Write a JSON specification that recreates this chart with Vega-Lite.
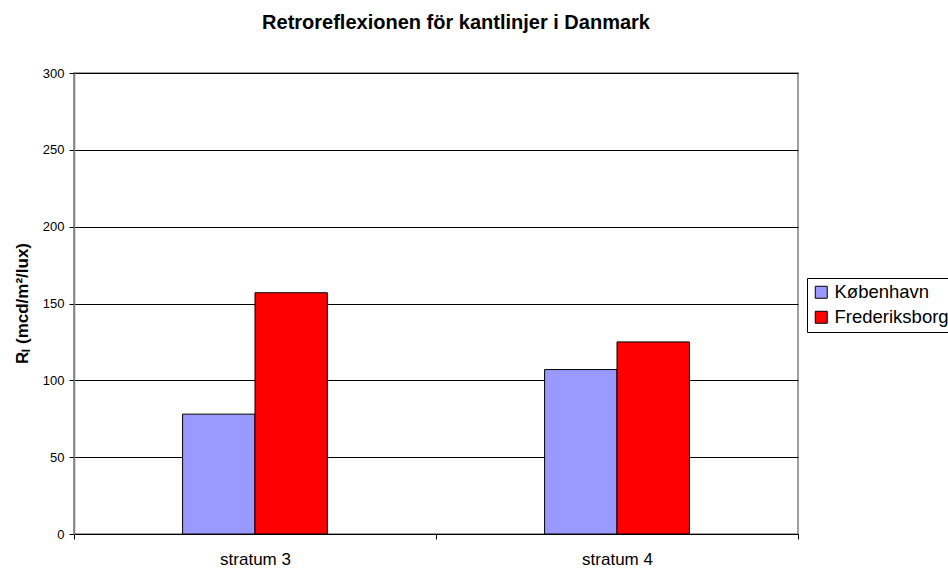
{
  "$schema": "https://vega.github.io/schema/vega-lite/v6.json",
  "autosize": "none",
  "width": 724,
  "height": 461,
  "padding": {"left": 74, "top": 73, "right": 150, "bottom": 35},
  "background": "white",
  "title": {
    "text": "Retroreflexionen för kantlinjer i Danmark",
    "font": "Liberation Sans",
    "fontSize": 20,
    "fontWeight": "bold",
    "color": "#000000",
    "anchor": "middle",
    "frame": "group",
    "baseline": "alphabetic",
    "offset": 18,
    "dx": 20
  },
  "data": {
    "values": [
      {"stratum": "stratum 3", "serie": "København", "RL": 78},
      {"stratum": "stratum 3", "serie": "Frederiksborg", "RL": 157},
      {"stratum": "stratum 4", "serie": "København", "RL": 107},
      {"stratum": "stratum 4", "serie": "Frederiksborg", "RL": 125}
    ]
  },
  "mark": {"type": "bar", "stroke": "#000000", "strokeWidth": 1},
  "encoding": {
    "x": {
      "field": "stratum",
      "type": "nominal",
      "scale": {"paddingInner": 0, "paddingOuter": 0},
      "axis": {
        "title": null,
        "labelAngle": 0,
        "labelFont": "Liberation Sans",
        "labelFontSize": 17,
        "labelColor": "#000000",
        "labelPadding": 12,
        "tickBand": "extent",
        "tickSize": 5,
        "tickColor": "#000000",
        "domainColor": "#000000",
        "domainWidth": 1,
        "grid": false
      }
    },
    "xOffset": {
      "field": "serie",
      "type": "nominal",
      "scale": {"domain": ["_a", "København", "Frederiksborg", "_b"], "paddingInner": 0, "paddingOuter": 0.5}
    },
    "y": {
      "field": "RL",
      "type": "quantitative",
      "scale": {"domain": [0, 300], "nice": false},
      "axis": {
        "title": "Rₗ (mcd/m²/lux)",
        "titleFont": "Liberation Sans",
        "titleFontSize": 17,
        "titleFontWeight": "bold",
        "titleColor": "#000000",
        "titleX": -52,
        "titleY": 230,
        "titleAngle": -90,
        "titleAlign": "center",
        "titleBaseline": "middle",
        "values": [0, 50, 100, 150, 200, 250, 300],
        "labelFont": "Liberation Sans",
        "labelFontSize": 13,
        "labelColor": "#000000",
        "labelPadding": 5,
        "tickSize": 5,
        "tickColor": "#000000",
        "domainColor": "#808080",
        "domainWidth": 1.5,
        "grid": true,
        "gridColor": "#000000",
        "gridWidth": 1
      }
    },
    "color": {
      "field": "serie",
      "type": "nominal",
      "sort": ["København", "Frederiksborg"],
      "scale": {"domain": ["København", "Frederiksborg"], "range": ["#9999FF", "#FF0000"]},
      "legend": {
        "title": null,
        "orient": "none",
        "legendX": 733,
        "legendY": 205,
        "direction": "vertical",
        "fillColor": "#FFFFFF",
        "strokeColor": "#000000",
        "padding": 5,
        "symbolType": "square",
        "symbolSize": 144,
        "symbolStrokeColor": "#000000",
        "symbolStrokeWidth": 1,
        "symbolOpacity": 1,
        "labelFont": "Liberation Sans",
        "labelFontSize": 18.5,
        "labelColor": "#000000",
        "labelOffset": 4,
        "rowPadding": 6,
        "labelLimit": 300
      }
    }
  },
  "config": {
    "view": {"stroke": "#808080", "strokeWidth": 1.5}
  }
}
